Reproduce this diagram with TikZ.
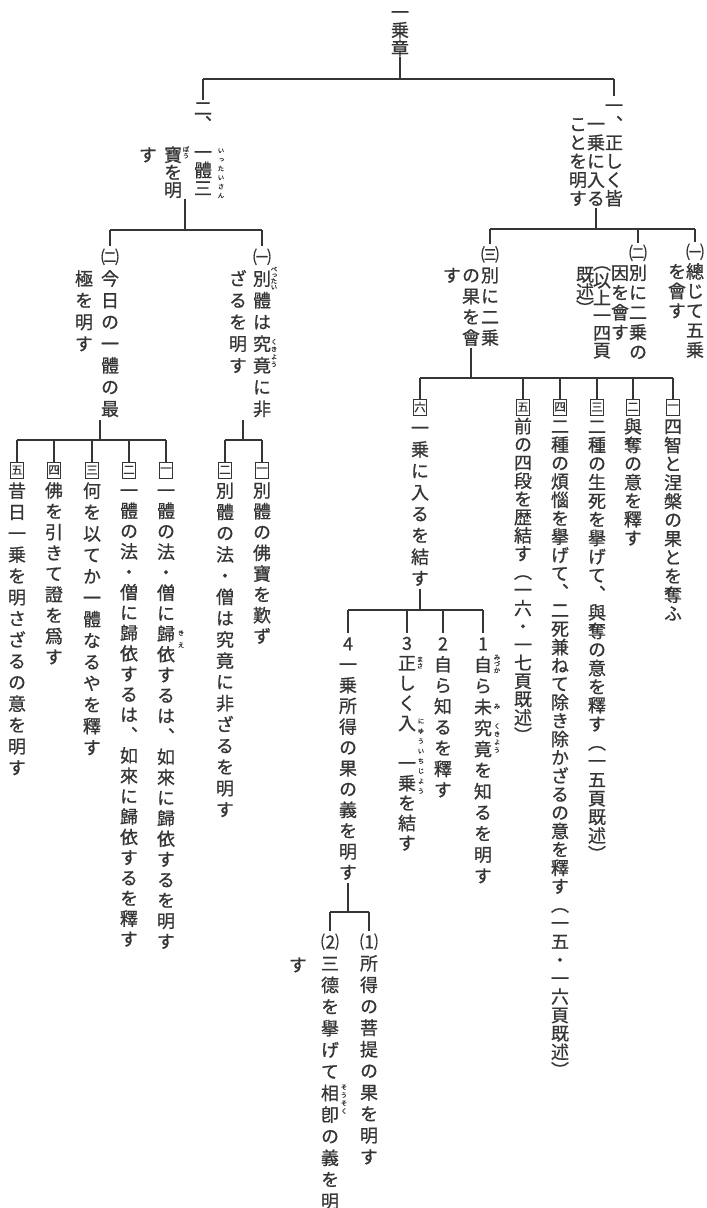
\documentclass[tikz,border=0pt]{standalone}
\usepackage{fontspec}
\newfontfamily\jp[RawFeature={+vert;embolden=0.8}]{Noto Sans CJK JP}
\usetikzlibrary{calc}
\definecolor{ink}{HTML}{353535}
\newlength\cp
\newlength\cw
\makeatletter
\def\vs@end{\vs@end@}
\newcommand\vs[2][20]{\vtop{\offinterlineskip\setlength\cp{#1pt}\setlength\cw{1em}\vs@i#2\vs@end}}
\def\vs@i#1{\ifx#1\vs@end\else\vs@c{#1}\expandafter\vs@i\fi}
\def\vs@c#1{\hbox to\cw{\hss\vbox to\cp{\vss\hbox{\vrule height.88em depth.12em width0pt\relax#1}\vss}\hss}}
\makeatother
\tikzset{
 col/.style={anchor=north, inner sep=0pt, outer sep=0pt, text=ink, font=\jp\fontsize{18}{18}\selectfont},
 ruby/.style={anchor=north, inner sep=0pt, outer sep=0pt, text=ink, font=\jp\fontsize{6.5}{6.5}\selectfont},
 bmark/.style={draw=ink, line width=0.7pt, minimum width=13pt, minimum height=16pt, inner sep=0pt, outer sep=0pt, text=ink, font=\jp\fontsize{11.5}{11.5}\selectfont},
 conn/.style={draw=ink, line width=1.1pt},
}
\begin{document}
\begin{tikzpicture}[x=1pt,y=-1pt]
\fill[white] (0,0) rectangle (707,1208);
\useasboundingbox (0,0) rectangle (707,1208);
% ---------- root
\node[col] (root) at (400,3) {\vs[18]{一乗章}};
\coordinate (barT) at (0,79);
% ---------- left header
\node[col] (L1) at (203,100) {\vs[16]{二︑}};
\node[col] (L1b) at (203,143) {\vs[18]{一體三}};
\node[col] (L2) at (173,146) {\vs[17.5]{寶を明}};
\node[col] (L3) at (148,146) {\vs[17.5]{す}};
\node[ruby] (R1) at (221,146) {\vs[9]{いったいさん}};
\node[ruby] (R2) at (186,146) {\vs[6.5]{ぼう}};
\coordinate (Lstem) at (185,199);
% ---------- right header
\node[col] (A1) at (614,96) {\vs[18.6]{一︑正しく皆}};
\node[col] (A2) at (596,114.6) {\vs[18.6]{一乗に入る}};
\node[col] (A3) at (578,114.6) {\vs[18.6]{ことを明す}};
% top connectors
\draw[conn] (root.south) -- (root.south |- barT);
\draw[conn] (L1.north |- barT) -- (A1.north |- barT);
\draw[conn] (L1.north |- barT) -- (L1.north);
\draw[conn] (A1.north |- barT) -- (A1.north);
% ---------- right level 2
\coordinate (barA) at (0,229);
\node[col] (B1a) at (695,242) {\vs[19.6]{㈠總じて五乗}};
\node[col] (B1b) at (677,261.6) {\vs[19.6]{を會す}};
\node[col] (B2a) at (638,243) {\vs[19.8]{㈡別に二乗の}};
\node[col] (B2b) at (620,262.8) {\vs[19.8]{因を會す}};
\node[col] (B2c) at (602,254) {\vs[17.5]{︵以上一四頁}};
\node[col] (B2d) at (585,266) {\vs[17]{既述︶}};
\node[col] (B3a) at (490,244) {\vs[20.8]{㈢別に二乗}};
\node[col] (B3b) at (471,264.8) {\vs[20.8]{の果を會}};
\node[col] (B3c) at (452,264.8) {\vs[20.8]{す}};
\draw[conn] (A2.south) -- (A2.south |- barA);
\draw[conn] (B3a.north |- barA) -- (B1a.north |- barA);
\draw[conn] (B1a.north |- barA) -- (B1a.north);
\draw[conn] (B2a.north |- barA) -- (B2a.north);
\draw[conn] (B3a.north |- barA) -- (B3a.north);
% ---------- C level
\coordinate (barB) at (0,378);
\node[bmark] (C1m) at (673,407) {一};
\node[bmark] (C2m) at (633,407) {二};
\node[bmark] (C3m) at (597,407) {三};
\node[bmark] (C4m) at (560,407) {四};
\node[bmark] (C5m) at (523,407) {五};
\node[bmark] (C6m) at (420,407) {六};
\node[col] (C1) at (673,417) {\vs[18.7]{四智と涅槃の果とを奪ふ}};
\node[col] (C2) at (633,417) {\vs[18.6]{與奪の意を釋す}};
\node[col] (C3) at (597,417) {\vs[18.6]{二種の生死を擧げて︑與奪の意を釋す︵一五頁既述︶}};
\node[col] (C4) at (560,417) {\vs[18.4]{二種の煩惱を擧げて︑二死兼ねて除き除かざるの意を釋す︵一五・一六頁既述︶}};
\node[col] (C5) at (523,417) {\vs[18.2]{前の四段を歴結す︵一六・一七頁既述︶}};
\node[col] (C6) at (420,417) {\vs[21.5]{一乗に入るを結す}};
\draw[conn] (B3b.south) -- (B3b.south |- barB);
\draw[conn] (C6m.north |- barB) -- (C1m.north |- barB);
\foreach \m in {C1m,C2m,C3m,C4m,C5m,C6m} {\draw[conn] (\m.north |- barB) -- (\m.north);}
% ---------- D level
\coordinate (barC) at (0,610);
\node[col] (D1) at (483,633) {\vs[21.1]{1自ら未究竟を知るを明す}};
\node[col] (D2) at (443,633) {\vs[20.9]{2自ら知るを釋す}};
\node[col] (D3) at (407,633) {\vs[20]{3正しく入　一乗を結す}};
\node[col] (D4) at (348,633) {\vs[20.8]{4一乗所得の果の義を明す}};
\node[ruby] (R6) at (497,654) {\vs[6.5]{みづか}};
\node[ruby] (R7) at (497,703) {\vs[6.5]{み}};
\node[ruby] (R8) at (497,722) {\vs[8]{くきよう}};
\node[ruby] (R9) at (420,656) {\vs[6.5]{まさ}};
\node[ruby] (R10) at (421,716) {\vs[10]{にゆういちじよう}};
\draw[conn] (C6.south) -- (C6.south |- barC);
\draw[conn] (D4.north |- barC) -- (D1.north |- barC);
\foreach \m in {D1,D2,D3,D4} {\draw[conn] (\m.north |- barC) -- (\m.north);}
% ---------- E level
\coordinate (barD) at (0,912);
\node[col] (E1) at (369,931) {\vs[21.5]{⑴所得の菩提の果を明す}};
\node[col] (E2) at (330,931) {\vs[21.6]{⑵三德を擧げて相卽の義を明}};
\node[col] (E3) at (298,954) {\vs[21.6]{す}};
\node[ruby] (R11) at (344,1083) {\vs[8]{そうそく}};
\draw[conn] (D4.south) -- (D4.south |- barD);
\draw[conn] (E2.north |- barD) -- (E1.north |- barD);
\draw[conn] (E1.north |- barD) -- (E1.north);
\draw[conn] (E2.north |- barD) -- (E2.north);
% ---------- left level 2
\coordinate (barL) at (0,230);
\node[col] (H2) at (110,246) {\vs[21.7]{㈡今日の一體の最}};
\node[col] (H2b) at (84,267.7) {\vs[21.7]{極を明す}};
\node[col] (H1) at (262,246) {\vs[21.7]{㈠別體は究竟に非}};
\node[col] (H1b) at (238,267.7) {\vs[21.7]{ざるを明す}};
\node[ruby] (R3) at (274,266) {\vs[6]{べったい}};
\node[ruby] (R4) at (274,338) {\vs[7.5]{くきよう}};
\draw[conn] (Lstem) -- (Lstem |- barL);
\draw[conn] (H2.north |- barL) -- (H1.north |- barL);
\draw[conn] (H2.north |- barL) -- (H2.north);
\draw[conn] (H1.north |- barL) -- (H1.north);
% ---------- F / G level
\coordinate (barH) at (0,440);
\coordinate (H2stem) at (100,420);
\coordinate (H1stem) at (243,420);
\node[bmark] (F1m) at (166,470) {一};
\node[bmark] (F2m) at (129,470) {二};
\node[bmark] (F3m) at (92,470) {三};
\node[bmark] (F4m) at (54,470) {四};
\node[bmark] (F5m) at (17,470) {五};
\node[col] (F1) at (166,480) {\vs[20.5]{一體の法・僧に歸依するは︑如來に歸依するを明す}};
\node[col] (F2) at (129,480) {\vs[20.4]{一體の法・僧に歸依するは︑如來に歸依するを釋す}};
\node[col] (F3) at (92,480) {\vs[21.4]{何を以てか一體なるやを釋す}};
\node[col] (F4) at (54,480) {\vs[20.8]{佛を引きて證を爲す}};
\node[col] (F5) at (17,480) {\vs[21.3]{昔日一乗を明さざるの意を明す}};
\node[ruby] (R5) at (181,627) {\vs[12]{きえ}};
\node[bmark] (G1m) at (262,470) {一};
\node[bmark] (G2m) at (225,470) {二};
\node[col] (G1) at (262,480) {\vs[20.8]{別體の佛寶を歎ず}};
\node[col] (G2) at (225,480) {\vs[21.25]{別體の法・僧は究竟に非ざるを明す}};
\draw[conn] (H2stem) -- (H2stem |- barH);
\draw[conn] (H1stem) -- (H1stem |- barH);
\draw[conn] (F5m.north |- barH) -- (F1m.north |- barH);
\draw[conn] (G2m.north |- barH) -- (G1m.north |- barH);
\foreach \m in {F1m,F2m,F3m,F4m,F5m,G1m,G2m} {\draw[conn] (\m.north |- barH) -- (\m.north);}
\end{tikzpicture}
\end{document}
